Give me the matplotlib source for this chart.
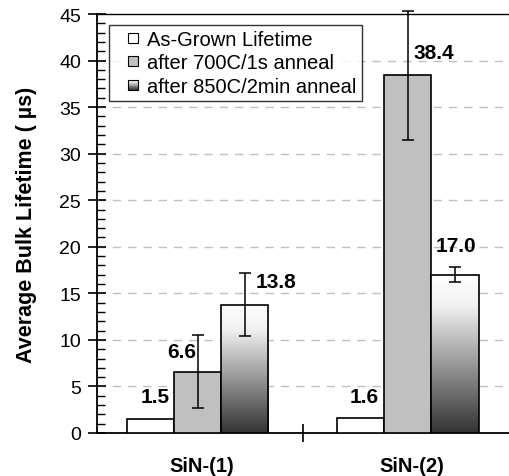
import numpy as np
import matplotlib.pyplot as plt
from matplotlib.colors import LinearSegmentedColormap
from matplotlib.patches import Rectangle
from matplotlib.legend_handler import HandlerBase

plt.rcParams['font.family'] = ['Liberation Sans', 'DejaVu Sans']

categories = ["SiN-(1)", "SiN-(2)"]
series_names = ["As-Grown Lifetime", "after 700C/1s anneal", "after 850C/2min anneal"]
as_grown = [1.5, 1.6]
anneal_700 = [6.6, 38.4]
anneal_850 = [13.8, 17.0]
err_700 = [3.9, 6.9]
err_850 = [3.4, 0.8]

# label offsets in pixels (dx, dy) relative to bar top centre
label_offsets = [
    [(4, 23), (3, 22)],
    [(-16, 20), (26, 23)],
    [(31, 23), (1, 29)],
]

grad_cmap = LinearSegmentedColormap.from_list(
    "grad", [(0, "#333333"), (0.5, "#a8a8a8"), (0.8, "#f0f0f0"), (1, "white")]
)


class SquareHandler(HandlerBase):
    # small square at the right end of the handle box, optionally with a gradient
    def __init__(self, face=None):
        super().__init__()
        self.face = face

    def create_artists(self, legend, orig_handle, xdescent, ydescent,
                       width, height, fontsize, trans):
        s = fontsize * 0.5
        x0 = -xdescent + width - s
        y0 = -ydescent + (height - s) / 2
        arts = []
        if self.face is None:
            n = 12
            for i in range(n):
                arts.append(Rectangle((x0, y0 + s * i / n), s, s / n,
                                      facecolor=grad_cmap((i + 0.5) / n), edgecolor="none",
                                      transform=trans))
            arts.append(Rectangle((x0, y0), s, s, facecolor="none",
                                  edgecolor="black", linewidth=0.8, transform=trans))
        else:
            arts.append(Rectangle((x0, y0), s, s, facecolor=self.face,
                                  edgecolor="black", linewidth=0.8, transform=trans))
        return arts


fig = plt.figure(figsize=(5.09, 4.77), dpi=100)
ax = fig.add_axes([97 / 509, 43 / 477, 416 / 509, 419 / 477])

x = np.arange(len(categories))
w = 0.224

ax.bar(x - w, as_grown, w, color="white", edgecolor="black", linewidth=1.2, zorder=3)
ax.bar(x, anneal_700, w, color="#c0c0c0", edgecolor="black", linewidth=1.2, zorder=3)

# gradient bars
grad = np.linspace(0, 1, 256).reshape(-1, 1)
for xi, v in zip(x + w, anneal_850):
    ax.imshow(grad, extent=(xi - w / 2, xi + w / 2, 0, v), origin="lower",
              aspect="auto", cmap=grad_cmap, zorder=3)
ax.bar(x + w, anneal_850, w, color="none", edgecolor="black", linewidth=1.2, zorder=4)

ax.errorbar(x, anneal_700, yerr=err_700, fmt="none", ecolor="black",
            elinewidth=1.1, capsize=4.5, capthick=1.1, zorder=5, clip_on=False)
ax.errorbar(x + w, anneal_850, yerr=err_850, fmt="none", ecolor="black",
            elinewidth=1.1, capsize=4.5, capthick=1.1, zorder=5, clip_on=False)

for s, (vals, offs) in enumerate(zip([as_grown, anneal_700, anneal_850], label_offsets)):
    for i, v in enumerate(vals):
        ax.annotate(f"{v:.1f}", (x[i] + (s - 1) * w, v), xytext=offs[i],
                    textcoords="offset pixels", ha="center", va="center",
                    fontsize=15, fontweight="bold", zorder=6)

ax.set_xlim(-0.48, 1.5)
ax.set_ylim(0, 45)

ax.set_yticks(np.arange(0, 46, 5))
ax.set_yticks(np.arange(0, 46, 1), minor=True)
ax.tick_params(axis="y", which="major", direction="inout", length=13, width=1.2,
               labelsize=14, pad=5)
ax.tick_params(axis="y", which="minor", direction="in", length=6, width=1.0)

ax.set_xticks([0.5])
ax.set_xticklabels([""])
ax.set_xticks(x + 0.02, categories, minor=True)
ax.tick_params(axis="x", which="major", direction="inout", length=13, width=1.2)
ax.tick_params(axis="x", which="minor", length=0, labelsize=14.5, pad=16.5)
for lbl in ax.get_xticklabels(minor=True):
    lbl.set_fontweight("bold")

for yv in np.arange(5, 45, 5):
    ax.axhline(yv, color="#c0c0c0", linestyle=(0, (6, 5)), linewidth=1.0, zorder=1)

ax.spines["right"].set_visible(False)
for sp in ["left", "bottom"]:
    ax.spines[sp].set_linewidth(1.3)
ax.spines["top"].set_linewidth(1.0)

ax.set_ylabel("Average Bulk Lifetime ( \u00b5s)", fontsize=15.5, fontweight="bold", labelpad=16)

handles = [Rectangle((0, 0), 1, 1) for _ in series_names]
hmap = {
    handles[0]: SquareHandler("white"),
    handles[1]: SquareHandler("#c0c0c0"),
    handles[2]: SquareHandler(None),
}
leg = ax.legend(handles, series_names, loc="upper left", bbox_to_anchor=(0.029, 0.974),
                borderaxespad=0, fontsize=14.5, frameon=True, fancybox=False,
                handlelength=1.2, handleheight=0.7, handletextpad=0.45,
                labelspacing=0.22, borderpad=0.25, handler_map=hmap)
leg.get_frame().set_edgecolor("black")
leg.get_frame().set_linewidth(1.0)
leg.set_zorder(10)

fig.savefig("out.png", dpi=100)
